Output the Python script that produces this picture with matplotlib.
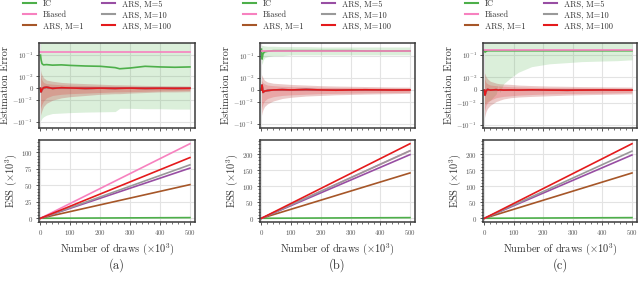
"""
Estimation error / ESS comparison, three setups (a), (b), (c).
"""
import matplotlib
matplotlib.use("Agg")
import matplotlib.pyplot as plt
from matplotlib.lines import Line2D
from matplotlib.ticker import AutoMinorLocator, FixedLocator

plt.rcParams["font.family"] = "cmr10"
plt.rcParams["mathtext.fontset"] = "cm"
plt.rcParams["axes.formatter.use_mathtext"] = True
plt.rcParams["text.color"] = "#333333"
plt.rcParams["axes.labelcolor"] = "#333333"

# ---- colours (Set1) ----
C_IC = "#4daf4a"
C_BIAS = "#f781bf"
C_M1 = "#a65628"
C_M5 = "#984ea3"
C_M10 = "#999999"
C_M100 = "#e41a1c"

labels = ["IC", "Biased", "ARS, M=1", "ARS, M=5", "ARS, M=10", "ARS, M=100"]
colors = [C_IC, C_BIAS, C_M1, C_M5, C_M10, C_M100]

# ---- ESS final values (x10^3) at 500k draws, order as labels ----
draws_ends = [0, 500]
ess_a = [1, 113, 51, 76, 81, 92]
ess_b = [2, 210, 141, 198, 210, 232]
ess_c = [2, 0, 141, 197, 209, 232]

# ---- estimation error, panel (a) ----
a_x = [0, 2, 5, 10, 20, 40, 70, 100, 150, 200, 250, 265, 300, 350, 400, 450, 500]
a_ic = [0.1, 0.06, 0.04, 0.035, 0.036, 0.034, 0.035, 0.033, 0.031, 0.03, 0.026, 0.023,
        0.025, 0.03, 0.028, 0.027, 0.028]
a_ic_hi = [0.5] * 17
a_ic_lo = [-0.09, -0.085, -0.07, -0.06, -0.05, -0.042, -0.04, -0.038, -0.036, -0.035,
           -0.034, -0.024, -0.024, -0.025, -0.025, -0.026, -0.026]
a_bias = [0.145] * 17
a_ars = [0.0, -0.003, -0.001, 0.0005, 0.001, 0.0, 0.0005, 0.0003, 0.0, 0.0002, 0.0,
         0.0001, 0.0002, 0.0, 0.0001, 0.0, 0.0001]
a_m1_hi = [0.02, 0.015, 0.012, 0.009, 0.007, 0.006, 0.005, 0.0045, 0.004, 0.0035, 0.003,
           0.003, 0.0028, 0.0025, 0.0023, 0.0022, 0.002]
a_m1_lo = [-0.05, -0.04, -0.03, -0.02, -0.014, -0.01, -0.008, -0.007, -0.006, -0.005,
           -0.0045, -0.0045, -0.004, -0.0035, -0.003, -0.003, -0.0028]
a_m100_hi = [0.012, 0.009, 0.007, 0.005, 0.004, 0.0035, 0.003, 0.0027, 0.0024, 0.002,
             0.0019, 0.0018, 0.0017, 0.0015, 0.0014, 0.0013, 0.0012]
a_m100_lo = [-0.025, -0.02, -0.015, -0.011, -0.008, -0.006, -0.005, -0.0045, -0.004,
             -0.0035, -0.003, -0.003, -0.0028, -0.0025, -0.0022, -0.002, -0.0018]

# ---- estimation error, panel (b) ----
b_x = [0, 2, 5, 10, 20, 40, 70, 100, 150, 200, 250, 300, 350, 400, 450, 500]
b_ic = [0.2, 0.07, 0.12, 0.15, 0.16, 0.17, 0.17, 0.17, 0.17, 0.17, 0.17, 0.17, 0.165,
        0.165, 0.165, 0.165]
b_ic_hi = [0.3, 0.3, 0.29, 0.28, 0.27, 0.27, 0.26, 0.26, 0.26, 0.25, 0.25, 0.25, 0.25,
           0.25, 0.25, 0.25]
b_ic_lo = [0.05, 0.04, 0.06, 0.08, 0.09, 0.1, 0.1, 0.11, 0.11, 0.11, 0.11, 0.11, 0.11,
           0.11, 0.11, 0.11]
b_bias = [0.165] * 16
b_ars = [0.0, 0.004, -0.002, -0.001, -0.0005, 0.0, 0.0002, 0.0, 0.0003, 0.0, -0.0002,
         0.0, 0.0001, 0.0, -0.0001, 0.0]
b_m1_hi = [0.014, 0.012, 0.01, 0.008, 0.0065, 0.0055, 0.005, 0.0045, 0.004, 0.0035,
           0.0032, 0.003, 0.0028, 0.0026, 0.0024, 0.0023]
b_m1_lo = [-0.04, -0.03, -0.022, -0.016, -0.012, -0.009, -0.007, -0.006, -0.005,
           -0.0045, -0.004, -0.0037, -0.0034, -0.0032, -0.003, -0.0028]
b_m100_hi = [0.008, 0.007, 0.006, 0.005, 0.004, 0.0035, 0.003, 0.0027, 0.0024, 0.0021,
             0.002, 0.0018, 0.0017, 0.0016, 0.0015, 0.0014]
b_m100_lo = [-0.02, -0.016, -0.012, -0.009, -0.007, -0.0055, -0.0045, -0.004, -0.0035,
             -0.003, -0.0028, -0.0026, -0.0024, -0.0022, -0.0021, -0.002]

# ---- estimation error, panel (c) ----
c_x = [0, 2, 5, 10, 20, 40, 47, 52, 65, 90, 115, 160, 220, 280, 330, 400, 450, 500]
c_ic = [0.15, 0.13, 0.14, 0.15, 0.15, 0.15, 0.15, 0.15, 0.15, 0.15, 0.15, 0.15, 0.15,
        0.15, 0.15, 0.15, 0.15, 0.15]
c_ic_hi = [0.4] * 18
c_ic_lo = [-0.012, -0.011, -0.01, -0.009, -0.008, -0.003, 0.004, -0.002, 0.005, 0.01,
           0.017, 0.03, 0.04, 0.045, 0.05, 0.053, 0.055, 0.06]
c_bias = [0.165] * 18
c_ars = [0.0, -0.004, -0.001, 0.0005, 0.0, 0.0003, 0.0, 0.0002, 0.0, 0.0001, 0.0,
         0.0002, 0.0, -0.0001, 0.0, 0.0001, 0.0, 0.0]
c_m1_hi = [0.016, 0.014, 0.011, 0.009, 0.007, 0.0055, 0.0052, 0.005, 0.0048, 0.0045,
           0.004, 0.0036, 0.0032, 0.003, 0.0028, 0.0026, 0.0025, 0.0024]
c_m1_lo = [-0.045, -0.035, -0.025, -0.018, -0.013, -0.009, -0.0085, -0.008, -0.007,
           -0.006, -0.0055, -0.005, -0.0045, -0.004, -0.0037, -0.0034, -0.0032, -0.003]
c_m100_hi = [0.009, 0.008, 0.006, 0.005, 0.004, 0.0035, 0.0033, 0.0032, 0.003, 0.0027,
             0.0025, 0.0022, 0.002, 0.0018, 0.0017, 0.0016, 0.0015, 0.0015]
c_m100_lo = [-0.022, -0.018, -0.013, -0.01, -0.008, -0.006, -0.0057, -0.0055, -0.005,
             -0.0045, -0.004, -0.0035, -0.003, -0.0028, -0.0026, -0.0024, -0.0022, -0.002]

panels = [
    dict(x=a_x, ic=a_ic, ic_hi=a_ic_hi, ic_lo=a_ic_lo, bias=a_bias, ars=a_ars,
         m1_hi=a_m1_hi, m1_lo=a_m1_lo, m100_hi=a_m100_hi, m100_lo=a_m100_lo,
         ess=ess_a, ylim=(-0.2, 0.37), ess_ticks=[0, 25, 50, 75, 100], tag="(a)"),
    dict(x=b_x, ic=b_ic, ic_hi=b_ic_hi, ic_lo=b_ic_lo, bias=b_bias, ars=b_ars,
         m1_hi=b_m1_hi, m1_lo=b_m1_lo, m100_hi=b_m100_hi, m100_lo=b_m100_lo,
         ess=ess_b, ylim=(-0.15, 0.38), ess_ticks=[0, 50, 100, 150, 200], tag="(b)"),
    dict(x=c_x, ic=c_ic, ic_hi=c_ic_hi, ic_lo=c_ic_lo, bias=c_bias, ars=c_ars,
         m1_hi=c_m1_hi, m1_lo=c_m1_lo, m100_hi=c_m100_hi, m100_lo=c_m100_lo,
         ess=ess_c, ylim=(-0.13, 0.33), ess_ticks=[0, 50, 100, 150, 200], tag="(c)"),
]

# pixel layout (640 x 288)
W, H = 640.0, 288.0
lefts = [39, 260, 483]
rights = [195, 415, 637]
leg_x = [23, 243, 465]

fig = plt.figure(figsize=(6.4, 2.88), dpi=100)
fig.patch.set_facecolor("white")


def style(ax):
    ax.set_facecolor("white")
    for s in ax.spines.values():
        s.set_color("#3a3a3a")
        s.set_linewidth(1.1)
    ax.grid(True, which="major", color="#e3e3e3", linewidth=0.8)
    ax.set_axisbelow(True)
    ax.tick_params(which="major", length=2.5, width=0.6, colors="#3a3a3a",
                   labelcolor="#555555", labelsize=5, pad=2)
    ax.tick_params(which="minor", length=1.5, width=0.5, colors="#3a3a3a")
    ax.xaxis.set_minor_locator(AutoMinorLocator(5))
    ax.set_xlim(-5, 517)


for p, l, r, lx in zip(panels, lefts, rights, leg_x):
    ax1 = fig.add_axes([l / W, 1 - 128 / H, (r - l) / W, 85 / H])
    ax2 = fig.add_axes([l / W, 1 - 222 / H, (r - l) / W, 82 / H])
    style(ax1)
    style(ax2)

    # --- estimation error (symlog) ---
    ax1.set_yscale("symlog", linthresh=0.01, linscale=0.5)
    x = p["x"]
    ax1.fill_between(x, p["ic_lo"], p["ic_hi"], color=C_IC, alpha=0.2, lw=0)
    ax1.fill_between(x, p["m1_lo"], p["m1_hi"], color="#c0504d", alpha=0.3, lw=0)
    ax1.fill_between(x, p["m100_lo"], p["m100_hi"], color=C_M100, alpha=0.2, lw=0)
    ax1.plot(x, p["ic"], color=C_IC, lw=1.2)
    ax1.plot(x, p["bias"], color=C_BIAS, lw=1.2)
    for c in (C_M1, C_M5, C_M10, C_M100):
        ax1.plot(x, p["ars"], color=c, lw=1.2)
    ax1.set_ylim(*p["ylim"])
    ax1.yaxis.set_major_locator(FixedLocator([-0.1, -0.01, 0, 0.01, 0.1]))
    ax1.yaxis.set_minor_locator(FixedLocator([]))
    ax1.set_yticklabels([r"$-10^{-1}$", r"$-10^{-2}$", "0", r"$10^{-2}$", r"$10^{-1}$"])
    ax1.set_xticks([0, 100, 200, 300, 400, 500])
    ax1.set_xticklabels([])
    ax1.set_ylabel("Estimation Error", fontsize=7.5, labelpad=1.5)

    # --- ESS ---
    for val, c in zip(p["ess"], colors):
        if val == 0:
            continue
        ax2.plot(draws_ends, [0, val], color=c, lw=1.2)
    ax2.set_xticks([0, 100, 200, 300, 400, 500])
    ax2.set_yticks(p["ess_ticks"])
    ax2.yaxis.set_minor_locator(AutoMinorLocator(5))
    ax2.set_ylabel(r"ESS ($\times 10^3$)", fontsize=7.5, labelpad=1.5)
    ax2.set_xlabel(r"Number of draws ($\times 10^3$)", fontsize=7.5, labelpad=3)

    # caption tag
    fig.text((l + r) / 2 / W, 1 - 265 / H, p["tag"], fontsize=9,
             ha="center", va="center")

    # legend above the panel
    handles = [Line2D([0], [0], color=c, lw=1.5) for c in colors]
    fig.legend(handles, labels, loc="upper left", ncol=2, frameon=False,
               bbox_to_anchor=(lx / W, 1.0), bbox_transform=fig.transFigure,
               fontsize=6, handlelength=1.6, handletextpad=0.8,
               columnspacing=2.2, labelspacing=0.3, borderpad=0, borderaxespad=0)

fig.savefig("out.png", dpi=100, facecolor="white")
